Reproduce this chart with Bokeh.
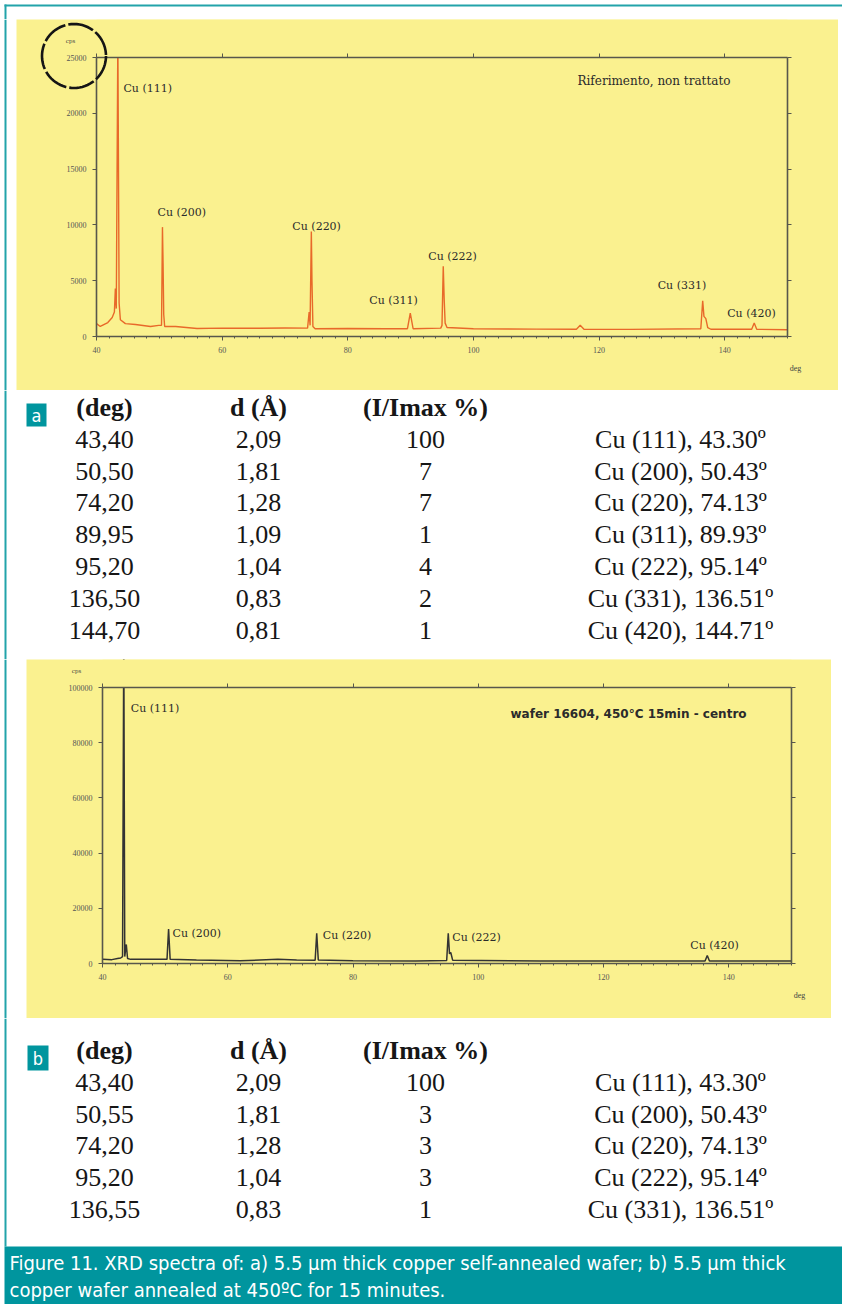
import math
from bokeh.plotting import figure
from bokeh.models import (Range1d, LinearAxis, FixedTicker, Label, BoxAnnotation,
                          PolyAnnotation, ColumnDataSource, NumeralTickFormatter)
from bokeh.layouts import column, row
from bokeh.embed import file_html
from bokeh.resources import INLINE
from bokeh.core.properties import value

# ---------------------------------------------------------------- data
# table a (self-annealed reference wafer)
a_angle = [43.40, 50.50, 74.20, 89.95, 95.20, 136.50, 144.70]
a_d = [2.09, 1.81, 1.28, 1.09, 1.04, 0.83, 0.81]
a_rel = [100, 7, 7, 1, 4, 2, 1]
a_hkl = ["111", "200", "220", "311", "222", "331", "420"]
a_ref = [43.30, 50.43, 74.13, 89.93, 95.14, 136.51, 144.71]

# table b (annealed 450 C, 15 min)
b_angle = [43.40, 50.55, 74.20, 95.20, 136.55]
b_d = [2.09, 1.81, 1.28, 1.04, 0.83]
b_rel = [100, 3, 3, 3, 1]
b_hkl = ["111", "200", "220", "222", "331"]
b_ref = [43.30, 50.43, 74.13, 95.14, 136.51]

# spectrum a (2theta deg, cps)
spec_a_deg = [40.0, 40.6, 41.8, 42.5, 42.85, 43.0, 43.15, 43.4, 43.6, 43.8,
              44.6, 46.2, 48.6, 49.9, 50.35, 50.5, 50.6, 50.7, 50.85, 52.6,
              56.0, 60.0, 66.0, 70.0, 73.6, 73.85, 74.0, 74.2, 74.3, 74.45,
              74.8, 80.0, 86.0, 89.5, 89.95, 90.4, 94.8, 95.0, 95.2, 95.35,
              95.5, 95.8, 100.0, 110.0, 116.4, 117.0, 117.6, 125.0, 136.2, 136.5,
              136.7, 137.0, 137.3, 137.8, 144.3, 144.7, 145.1, 150.0]
spec_a_cps = [1150, 900, 1250, 1700, 2200, 4300, 2500, 27000, 3000, 1500,
              1150, 1080, 900, 1000, 1000, 9800, 6500, 2000, 900, 900,
              720, 750, 740, 760, 750, 2200, 1000, 9400, 5000, 900,
              700, 720, 700, 700, 2100, 700, 750, 1000, 6300, 3300,
              1200, 800, 700, 660, 650, 1000, 650, 640, 700, 3200,
              1800, 1600, 800, 650, 650, 1200, 650, 600]

# spectrum b (2theta deg, cps)
spec_b_deg = [40.0, 41.5, 42.4, 42.9, 43.2, 43.4, 43.55, 43.8, 44.0, 44.5,
              47.0, 50.3, 50.55, 50.8, 55.0, 62.0, 68.0, 71.0, 73.95, 74.2,
              74.45, 80.0, 90.0, 94.95, 95.2, 95.4, 95.6, 95.9, 110.0, 125.0,
              136.2, 136.55, 136.9, 143.0, 150.0]
spec_b_cps = [1500, 1400, 1800, 2000, 2500, 120000, 2500, 6900, 1800, 1500,
              1500, 1500, 12500, 1500, 1300, 1000, 1500, 1300, 1200, 10900,
              1300, 1000, 900, 1100, 10900, 3500, 4000, 1200, 900, 900,
              900, 2900, 900, 900, 900]

a_peak_labels = ["Cu (111)", "Cu (200)", "Cu (220)", "Cu (311)", "Cu (222)", "Cu (331)", "Cu (420)"]
b_peak_labels = ["Cu (111)", "Cu (200)", "Cu (220)", "Cu (222)", "Cu (420)"]

x_tick_values = [40, 60, 80, 100, 120, 140]
a_y_ticks = [0, 5000, 10000, 15000, 20000, 25000]
b_y_ticks = [0, 20000, 40000, 60000, 80000, 100000]

table_headers = ["(deg)", "d (Å)", "(I/Imax %)"]
a_title = "Riferimento, non trattato"
b_title = "wafer 16604, 450°C 15min - centro"
caption_lines = ["Figure 11. XRD spectra of:  a) 5.5 µm thick copper self-annealed wafer;  b) 5.5 µm thick",
                 "copper wafer annealed at 450ºC for 15 minutes."]

# ---------------------------------------------------------------- style
TEAL = "#00959e"
TEAL_LINE = "#22a3aa"
YELLOW = "#faf18f"
AXIS = "#57574c"
SERIF = "Liberation Serif"
CAP_FONT = "'Liberation Sans Narrow', 'DejaVu Sans Condensed', 'Roboto'"
X0, X1 = 40, 150


def canvas(x0, x1, y0, y1):
    p = figure(width=x1 - x0, height=y1 - y0, x_range=Range1d(x0, x1), y_range=Range1d(-y1, -y0),
               title=None, min_border=0, toolbar_location=None, output_backend="svg",
               x_axis_location=None, y_axis_location=None, outline_line_color=None,
               background_fill_color="white", border_fill_color="white")
    p.xgrid.grid_line_color = None
    p.ygrid.grid_line_color = None
    return p


def band(p, l, r, t, b, color):
    p.add_layout(BoxAnnotation(left=l, right=r, top=-t, bottom=-b, fill_color=color,
                               fill_alpha=1.0, line_color=None, level="underlay"))


def spectrum_fig(width, height, gl, gr, gt, gb, ymax, yticks):
    # gl, gr, gt, gb: pixel gaps between the canvas edges and the axes box
    fw = width - gl - gr
    fh = height - gt - gb
    sx = (X1 - X0) / fw
    sy = ymax / fh
    p = figure(width=width, height=height,
               x_range=Range1d(X0 - gl * sx, X1 + gr * sx),
               y_range=Range1d(-gb * sy, ymax + gt * sy),
               title=None, min_border=0, toolbar_location=None, output_backend="svg",
               x_axis_location=None, y_axis_location=None, outline_line_color=None,
               background_fill_color=YELLOW, border_fill_color=YELLOW)
    p.xgrid.grid_line_color = None
    p.ygrid.grid_line_color = None
    minor = list(range(X0, X1 + 1, 2))
    specs = [("below", FixedTicker(ticks=x_tick_values, minor_ticks=minor), True, 0, (X0, X1)),
             ("above", FixedTicker(ticks=x_tick_values), False, ymax, (X0, X1)),
             ("left", FixedTicker(ticks=yticks), True, X0, (0, ymax)),
             ("right", FixedTicker(ticks=yticks), False, X1, (0, ymax))]
    for loc, ticker, show, fixed, bounds in specs:
        ax = LinearAxis(ticker=ticker, formatter=NumeralTickFormatter(format="0"),
                        fixed_location=fixed, bounds=bounds)
        ax.axis_line_color = AXIS
        ax.axis_line_width = 1.6
        ax.major_tick_line_color = AXIS
        ax.minor_tick_line_color = AXIS
        ax.major_tick_in = 0
        ax.major_tick_out = 4
        ax.minor_tick_in = 0
        ax.minor_tick_out = 2
        ax.major_label_text_font = SERIF
        ax.major_label_text_font_size = "8px"
        ax.major_label_text_color = "#555555" if show else None
        ax.major_label_standoff = 6
        p.add_layout(ax, loc)
    return p, sx, sy


def mask_offscale(p, ymax):
    # what lies above the axes box is not shown, as on the instrument plot
    p.add_layout(BoxAnnotation(left=X0, right=X1, bottom=ymax, fill_color=YELLOW,
                               fill_alpha=1.0, line_color=None, level="glyph"))


def peak_top(degs, cps, angle):
    return max(c for d, c in zip(degs, cps) if abs(d - angle) <= 0.3)


def label(p, x, y, text, size, font=SERIF, color="#333333", align="left", style="normal"):
    p.add_layout(Label(x=x, y=y, text=text, text_font=font, text_font_size=size,
                       text_color=color, text_align=align, text_baseline="middle",
                       text_font_style=style))


def annotate(p, sx, sy, ymax, degs, cps, angles, names, offsets, title, title_off, title_font, title_style):
    for ang, name, (dx, dy) in zip(angles, names, offsets):
        top = min(peak_top(degs, cps, ang), ymax)
        label(p, ang + dx * sx, top - dy * sy, name, "11px", font="DejaVu Serif", color="#2b2b2b")
    label(p, X1 + title_off[0] * sx, ymax - title_off[1] * sy, title, "12px",
          font=title_font, color="#2b2b2b", style=title_style)
    label(p, X0 - 26 * sx, ymax + 17 * sy, "cps", "7px", color="#444444", align="center")
    label(p, X1 + 8 * sx, -32 * sy, "deg", "8px", color="#444444", align="center")


def table(p, angles, ds, rels, hkls, refs, y_head, letter, box):
    cols = [104, 258, 425, 680]
    step = 31.8
    hx = cols[:3]
    p.text(x=hx, y=[-y_head] * 3, text=table_headers, text_font=value(SERIF),
           text_font_size=value("26px"), text_font_style="bold", text_align="center",
           text_baseline="middle", text_color="#161616")
    xs, ys, ts = [], [], []
    for i, (a, d, r, h, ref) in enumerate(zip(angles, ds, rels, hkls, refs)):
        y = -(y_head + step * (i + 1))
        cells = [f"{a:.2f}".replace(".", ","), f"{d:.2f}".replace(".", ","), str(r),
                 f"Cu ({h}), {ref:.2f}º"]
        for cx, t in zip(cols, cells):
            xs.append(cx)
            ys.append(y)
            ts.append(t)
    src = ColumnDataSource(dict(x=xs, y=ys, t=ts))
    p.text(x="x", y="y", text="t", source=src, text_font=value(SERIF),
           text_font_size=value("26px"), text_align="center", text_baseline="middle",
           text_color="#161616")
    l, r, t, b = box
    band(p, l, r, t, b, TEAL)
    label(p, (l + r) / 2, -(t + b) / 2, letter, "18px", font=CAP_FONT, color="white", align="center")


# ---------------------------------------------------------------- section a
top_strip = canvas(0, 842, 0, 19)
band(top_strip, 4, 842, 4, 6, TEAL_LINE)
band(top_strip, 4, 6, 4, 19, TEAL_LINE)

left_a = canvas(0, 16, 19, 390)
band(left_a, 4, 6, 19, 390, TEAL_LINE)
right_a = canvas(838, 842, 19, 390)

pa, sxa, sya = spectrum_fig(822, 371, 80, 51, 38, 54, 25000, a_y_ticks)
pa.line(spec_a_deg, spec_a_cps, line_color="#e8692a", line_width=1.4)
mask_offscale(pa, 25000)
a_offsets = [(5.6, 31), (-5, -14.6), (-19, -5), (-41, -12.6), (-15, -10), (-45, -15), (-27, -10)]
annotate(pa, sxa, sya, 25000, spec_a_deg, spec_a_cps, a_angle, a_peak_labels, a_offsets,
         a_title, (-210, 23), "DejaVu Serif", "normal")
# highlight circle drawn round the axis maximum
ccx, ccy, rad = -22.5, -1.5, 32
angs = [k * 2 * math.pi / 72 for k in range(73)]
pa.add_layout(PolyAnnotation(xs=[X0 + (ccx + rad * math.cos(t)) * sxa for t in angs],
                             ys=[25000 - (ccy + rad * math.sin(t)) * sya for t in angs],
                             fill_color=None, fill_alpha=0, line_color="#151515",
                             line_alpha=1.0, line_width=2.6, line_dash="26 3"))

tab_a = canvas(0, 842, 390, 659)
band(tab_a, 4, 6, 390, 659, TEAL_LINE)
table(tab_a, a_angle, a_d, a_rel, a_hkl, a_ref, 407, "a", (26, 46, 403, 426))

# ---------------------------------------------------------------- section b
left_b = canvas(0, 26, 659, 1018)
band(left_b, 4, 6, 659, 1018, TEAL_LINE)
right_b = canvas(831, 842, 659, 1018)

pb, sxb, syb = spectrum_fig(805, 359, 76, 40, 28, 55, 100000, b_y_ticks)
pb.line(spec_b_deg, spec_b_cps, line_color="#333333", line_width=1.5)
mask_offscale(pb, 100000)
b_offsets = [(7, 21), (4, 4.5), (6, 2), (4, 4), (-17, -10)]
annotate(pb, sxb, syb, 100000, spec_b_deg, spec_b_cps, b_angle, b_peak_labels, b_offsets,
         b_title, (-281, 26), "DejaVu Sans", "bold")

tab_b = canvas(0, 842, 1018, 1304)
band(tab_b, 4, 6, 1018, 1246, TEAL_LINE)
table(tab_b, b_angle, b_d, b_rel, b_hkl, b_ref, 1050, "b", (27, 48, 1045, 1070))
band(tab_b, 4, 842, 1246, 1304, TEAL)
label(tab_b, 9, -1262, caption_lines[0], "20px", font=CAP_FONT, color="white")
label(tab_b, 9, -1289, caption_lines[1], "20px", font=CAP_FONT, color="white")

layout = column(top_strip, row(left_a, pa, right_a), tab_a, row(left_b, pb, right_b), tab_b)

open("out.html", "w").write(file_html(layout, INLINE))
